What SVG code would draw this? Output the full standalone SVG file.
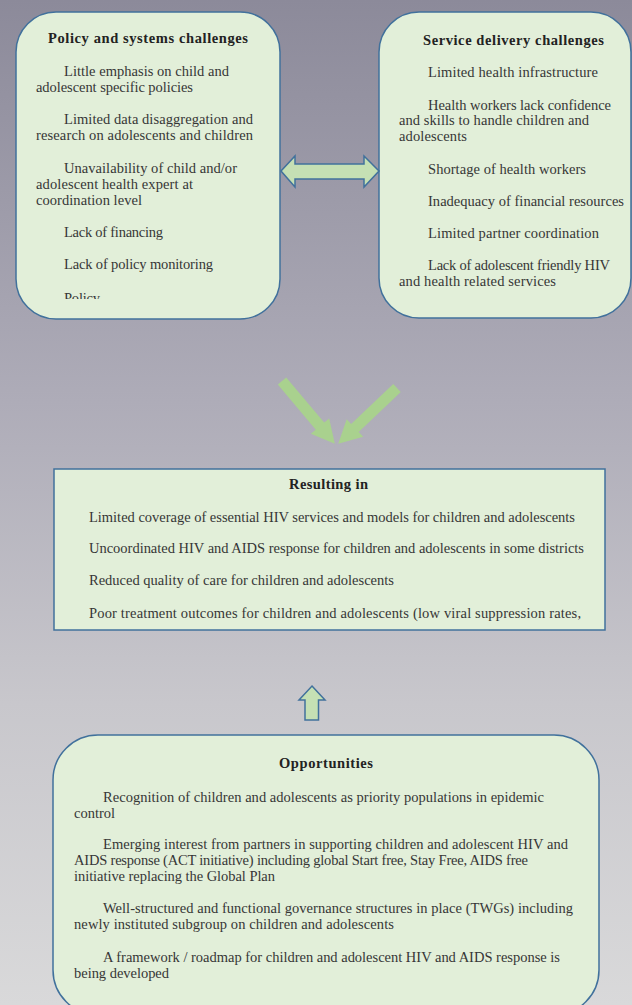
<svg xmlns="http://www.w3.org/2000/svg" width="632" height="1005" viewBox="0 0 632 1005">
<defs>
<linearGradient id="bg" x1="0" y1="0" x2="0" y2="1">
<stop offset="0" stop-color="#8c8a9a"/>
<stop offset="0.4" stop-color="#aeacb8"/>
<stop offset="0.7" stop-color="#c8c7cc"/>
<stop offset="1" stop-color="#d9d9da"/>
</linearGradient>
<clipPath id="clipL"><rect x="16" y="12" width="264" height="287"/></clipPath>
</defs>
<style>
.box{fill:#e2efd9;stroke:#41719c;stroke-width:1.5}
.t{font-family:"Liberation Serif","DejaVu Serif",serif;font-size:14.5px;fill:#363636}
.h{font-family:"Liberation Serif","DejaVu Serif",serif;font-size:14.5px;font-weight:bold;fill:#222222}
.blk{fill:#c5e0b4;stroke:#41719c;stroke-width:1.5}
.dg{fill:#a9d18e}
</style>
<rect x="0" y="0" width="632" height="1005" fill="url(#bg)"/>

<g id="policy">
<rect class="box" x="16" y="12" width="264" height="307" rx="40" ry="40"/>
<text class="h" x="48" y="43" textLength="200">Policy and systems challenges</text>
<g clip-path="url(#clipL)">
<text class="t" x="64" y="76" textLength="165">Little emphasis on child and</text>
<text class="t" x="36" y="92" textLength="157">adolescent specific policies</text>
<text class="t" x="64" y="124" textLength="189">Limited data disaggregation and</text>
<text class="t" x="36" y="140" textLength="217">research on adolescents and children</text>
<text class="t" x="64" y="173" textLength="173">Unavailability of child and/or</text>
<text class="t" x="36" y="189" textLength="157">adolescent health expert at</text>
<text class="t" x="36" y="205" textLength="106">coordination level</text>
<text class="t" x="64" y="237" textLength="99">Lack of financing</text>
<text class="t" x="64" y="269" textLength="149">Lack of policy monitoring</text>
<text class="t" x="64" y="303" textLength="36">Policy</text>
</g>
</g>

<g id="service">
<rect class="box" x="379" y="12" width="252" height="306" rx="40" ry="40"/>
<text class="h" x="423" y="45" textLength="181">Service delivery challenges</text>
<text class="t" x="428" y="77" textLength="170">Limited health infrastructure</text>
<text class="t" x="428" y="110" textLength="183">Health workers lack confidence</text>
<text class="t" x="399" y="125" textLength="190">and skills to handle children and</text>
<text class="t" x="399" y="141" textLength="68">adolescents</text>
<text class="t" x="428" y="174" textLength="158">Shortage of health workers</text>
<text class="t" x="428" y="206" textLength="196">Inadequacy of financial resources</text>
<text class="t" x="428" y="238" textLength="171">Limited partner coordination</text>
<text class="t" x="428" y="270" textLength="182">Lack of adolescent friendly HIV</text>
<text class="t" x="399" y="286" textLength="157">and health related services</text>
</g>

<g id="resulting">
<rect class="box" x="54" y="469" width="551" height="161"/>
<text class="h" x="289" y="489" textLength="79">Resulting in</text>
<text class="t" x="89" y="522" textLength="486">Limited coverage of essential HIV services and models for children and adolescents</text>
<text class="t" x="89" y="553" textLength="495">Uncoordinated HIV and AIDS response for children and adolescents in some districts</text>
<text class="t" x="89" y="585" textLength="305">Reduced quality of care for children and adolescents</text>
<text class="t" x="89" y="618" textLength="492">Poor treatment outcomes for children and adolescents (low viral suppression rates,</text>
</g>

<g id="opportunities">
<rect class="box" x="53" y="735" width="546" height="280" rx="45" ry="45"/>
<text class="h" x="279" y="768" textLength="94">Opportunities</text>
<text class="t" x="103" y="802" textLength="441">Recognition of children and adolescents as priority populations in epidemic</text>
<text class="t" x="74" y="818" textLength="41">control</text>
<text class="t" x="103" y="849" textLength="465">Emerging interest from partners in supporting children and adolescent HIV and</text>
<text class="t" x="74" y="865" textLength="454">AIDS response (ACT initiative) including global Start free, Stay Free, AIDS free</text>
<text class="t" x="74" y="881" textLength="201">initiative replacing the Global Plan</text>
<text class="t" x="103" y="913" textLength="470">Well-structured and functional governance structures in place (TWGs) including</text>
<text class="t" x="74" y="929" textLength="320">newly instituted subgroup on children and adolescents</text>
<text class="t" x="103" y="962" textLength="457">A framework / roadmap for children and adolescent HIV and AIDS response is</text>
<text class="t" x="74" y="978" textLength="95">being developed</text>
</g>

<g id="connectors">
<polygon class="blk" points="281,171 295,156 295,164 364,164 364,156 379,171 364,187 364,179 295,179 295,187"/>
<polygon class="dg" transform="translate(282,381) rotate(49.9)" points="0,-5.5 59,-5.5 59,-12 82,0 59,12 59,5.5 0,5.5"/>
<polygon class="dg" transform="translate(397,388) rotate(136.5)" points="0,-5.5 58,-5.5 58,-12 81,0 58,12 58,5.5 0,5.5"/>
<polygon class="blk" points="312,686 325,700 318.5,700 318.5,720 305,720 305,700 299,700"/>
</g>
</svg>
